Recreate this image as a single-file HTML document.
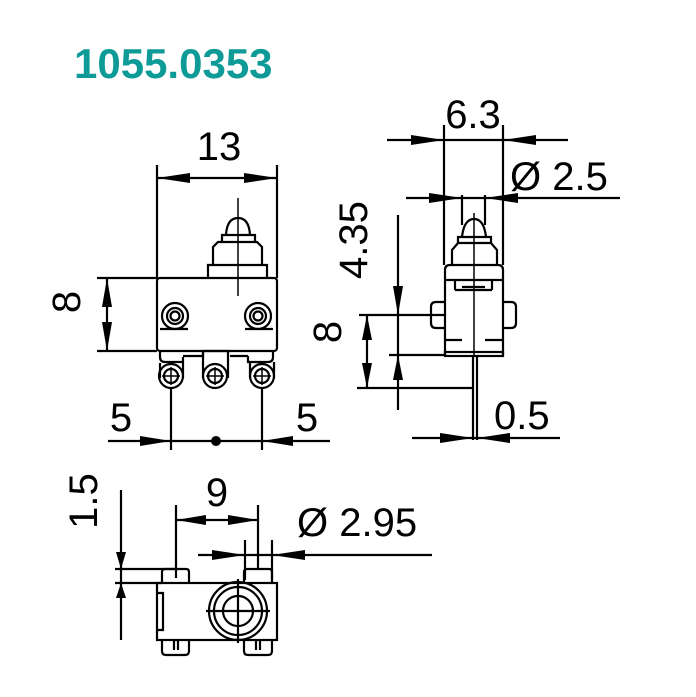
<!DOCTYPE html>
<html><head><meta charset="utf-8"><style>
html,body{margin:0;padding:0;background:#fff;}
svg{display:block;}
text{font-family:"Liberation Sans",sans-serif;fill:#000;}
</style></head><body>
<svg width="696" height="697" viewBox="0 0 696 697" xmlns="http://www.w3.org/2000/svg">
<text x="74" y="78" style="font-weight:bold;font-size:42px;fill:#0e9b98">1055.0353</text>
<g stroke="#000" stroke-width="2.2" fill="none">
<!-- FRONT VIEW -->
<path d="M157 165V278M277 165V278"/>
<path d="M157 178H277"/>
<path d="M97 278H157M97 351H157M107 278V351"/>
<rect x="157" y="278" width="120" height="73" rx="3"/>
<path d="M208 278V265H267V278"/>
<path d="M213 265V247L218 242H257L262 247V265"/>
<path d="M222 242V235H255V242"/>
<path d="M226 235Q227 218 238 218Q249 218 250 235"/>
<path d="M238 198V296" stroke-width="1.5"/>
<circle cx="175" cy="316" r="13"/><circle cx="175" cy="316" r="8"/><circle cx="175" cy="316" r="4.5"/>
<circle cx="258" cy="316" r="13"/><circle cx="258" cy="316" r="8"/><circle cx="258" cy="316" r="4.5"/>
<path d="M160 329H188M245 329H273"/>
<path d="M160 351V357Q160 362 165 362H183V357M183 356H203V351M203 351H230M230 356H248M248 356V362H268Q273 362 273 357V351"/>
<path d="M160 363V378M183 363V378"/>
<circle cx="171" cy="376" r="12"/><circle cx="171" cy="376" r="7"/><path d="M162 376H180M171 367V385" stroke-width="1.5"/>
<path d="M203 351V378M228 351V378"/>
<circle cx="215" cy="376" r="12"/><circle cx="215" cy="376" r="7"/><path d="M206 376H224M215 367V385" stroke-width="1.5"/>
<path d="M250 362V378M274 362V378"/>
<circle cx="262" cy="376" r="12"/><circle cx="262" cy="376" r="7"/><path d="M253 376H271M262 367V385" stroke-width="1.5"/>
<path d="M171 388V450M262 388V450"/>
<path d="M108 441H330"/>
<!-- SIDE VIEW -->
<path d="M444 125V265M503 125V265"/>
<path d="M387 140H568"/>
<path d="M462 195V225M485 195V225"/>
<path d="M406 198H620"/>
<path d="M445 355V270Q445 265 450 265H498Q503 265 503 270V355"/>
<path d="M445 280H503"/>
<path d="M455 290V280M492 290V280M455 290H492M462 287H485"/>
<path d="M452 265V250L458 243H491L497 250V265"/>
<path d="M458 243V237H491V243"/>
<path d="M462 237Q464 219 474 219Q484 219 486 237"/>
<path d="M474 213V355" stroke-width="1.5"/>
<path d="M445 302H436Q431 302 431 307V323Q431 328 436 328H445"/>
<path d="M503 302H511Q516 302 516 307V323Q516 328 511 328H503"/>
<path d="M445 340H462M485 340H503"/>
<rect x="445" y="352" width="58" height="4"/>
<path d="M473 356V440M477 356V440"/>
<path d="M398 215V410"/>
<path d="M359 315H445M389 355H445M357 388H473"/>
<path d="M367 315V388"/>
<path d="M412 438H560"/>
<!-- BOTTOM VIEW -->
<rect x="157" y="583" width="120" height="57"/>
<path d="M157 593H163V630H157"/>
<path d="M162 583V572Q162 569 165 569H186Q189 569 189 572V583"/>
<path d="M244 583V572Q244 569 247 569H269Q272 569 272 572V583"/>
<path d="M162 640V651Q162 655 166 655H185Q189 655 189 651V640"/>
<path d="M244 640V651Q244 655 248 655H268Q272 655 272 651V640"/>
<path d="M174 640V650M178 640V650M256 640V650M260 640V650"/>
<circle cx="238" cy="611" r="29"/><circle cx="238" cy="611" r="24"/><circle cx="238" cy="611" r="15"/>
<path d="M206 611H270M238 579V643"/>
<path d="M121 490V640M115 569H176M115 583H162"/>
<path d="M176 505V578M258 505V570"/>
<path d="M176 520H258"/>
<path d="M245 540V580M272 540V580"/>
<path d="M198 555H432"/>
</g>
<g fill="#000">
<polygon points="157,178 190,173 190,183"/><polygon points="277,178 244,173 244,183"/>
<polygon points="107,278 102,307 112,307"/><polygon points="107,351 102,322 112,322"/>
<polygon points="171,441 140,436 140,446"/><polygon points="262,441 293,436 293,446"/>
<circle cx="216" cy="441" r="5"/>
<polygon points="444,140 411,135 411,145"/><polygon points="503,140 536,135 536,145"/>
<polygon points="462,198 429,193 429,203"/><polygon points="485,198 518,193 518,203"/>
<polygon points="398,315 393,286 403,286"/><polygon points="398,355 393,380 403,380"/>
<polygon points="367,315 362,340 372,340"/><polygon points="367,388 362,363 372,363"/>
<polygon points="473,438 440,433 440,443"/><polygon points="477,438 510,433 510,443"/>
<polygon points="121,569 116,552 126,552"/><polygon points="121,583 116,598 126,598"/>
<polygon points="176,520 206,515 206,525"/><polygon points="258,520 228,515 228,525"/>
<polygon points="245,555 212,550 212,560"/><polygon points="272,555 305,550 305,560"/>
</g>
<g style="font-size:40px">
<text x="219" y="160" text-anchor="middle">13</text>
<text x="93" y="315" text-anchor="middle" transform="rotate(-90 80 315)">8</text>
<text x="121" y="431" text-anchor="middle">5</text>
<text x="307" y="431" text-anchor="middle">5</text>
<text x="473" y="128" text-anchor="middle">6.3</text>
<text x="510" y="190">Ø 2.5</text>
<text x="381" y="254" text-anchor="middle" transform="rotate(-90 367 254)">4.35</text>
<text x="355" y="346" text-anchor="middle" transform="rotate(-90 341 346)">8</text>
<text x="494" y="429">0.5</text>
<text x="217" y="506" text-anchor="middle">9</text>
<text x="111" y="515" text-anchor="middle" transform="rotate(-90 97 515)">1.5</text>
<text x="297" y="536">Ø 2.95</text>
</g>
</svg>
</body></html>
